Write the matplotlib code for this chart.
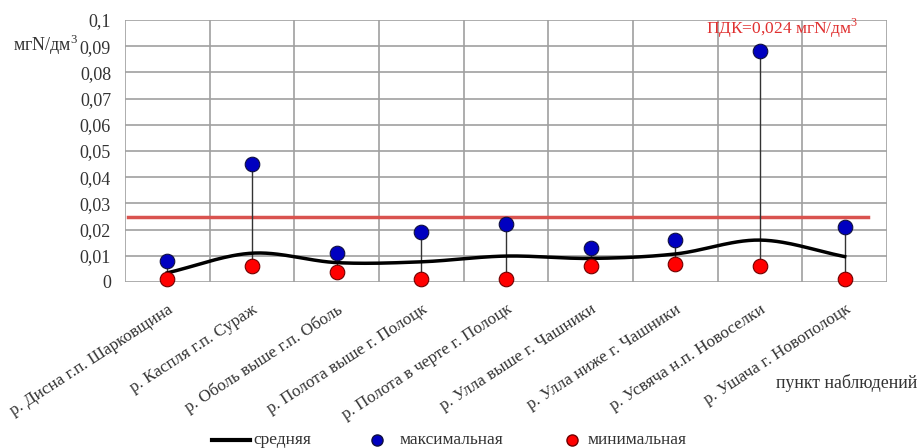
import numpy as np
import matplotlib
matplotlib.use("Agg")
import matplotlib.pyplot as plt
from matplotlib.lines import Line2D

categories = ["р. Дисна г.п. Шарковщина", "р. Каспля г.п. Сураж", "р. Оболь выше г.п. Оболь",
              "р. Полота выше г. Полоцк", "р. Полота в черте г. Полоцк", "р. Улла выше г. Чашники",
              "р. Улла ниже г. Чашники", "р. Усвяча н.п. Новоселки", "р. Ушача г. Новополоцк"]
max_vals = [0.008, 0.045, 0.011, 0.019, 0.022, 0.013, 0.016, 0.088, 0.021]
min_vals = [0.001, 0.006, 0.004, 0.001, 0.001, 0.006, 0.007, 0.006, 0.001]
mean_vals = [0.0035, 0.011, 0.0074, 0.0077, 0.0099, 0.009, 0.0107, 0.016, 0.0097]
pdk_line = 0.025
pdk_label = "ПДК=0,024 мгN/дм$^3$"
yticks = [0, 0.01, 0.02, 0.03, 0.04, 0.05, 0.06, 0.07, 0.08, 0.09, 0.1]
ytick_labels = ["0", "0,01", "0,02", "0,03", "0,04", "0,05", "0,06", "0,07", "0,08", "0,09", "0,1"]
legend_labels = ["средняя", "максимальная", "минимальная"]

plt.rcParams['font.family'] = ['Liberation Serif', 'DejaVu Serif']
plt.rcParams['mathtext.fontset'] = 'custom'
plt.rcParams['mathtext.rm'] = 'Liberation Serif'

def catmull_rom(x, y, n=30):
    x = np.asarray(x, float); y = np.asarray(y, float)
    px = np.concatenate([[2*x[0]-x[1]], x, [2*x[-1]-x[-2]]])
    py = np.concatenate([[2*y[0]-y[1]], y, [2*y[-1]-y[-2]]])
    xs, ys = [], []
    for i in range(1, len(px)-2):
        t = np.linspace(0, 1, n, endpoint=False)
        for arr, out in ((px, xs), (py, ys)):
            p0, p1, p2, p3 = arr[i-1], arr[i], arr[i+1], arr[i+2]
            out.append(0.5*((2*p1) + (-p0+p2)*t + (2*p0-5*p1+4*p2-p3)*t**2 + (-p0+3*p1-3*p2+p3)*t**3))
    xs.append([x[-1]]); ys.append([y[-1]])
    return np.concatenate(xs), np.concatenate(ys)

W, H = 922, 448
fig = plt.figure(figsize=(W/100, H/100), dpi=100)
ax = fig.add_axes([125/W, 1-282/H, (887-125)/W, (282-20)/H])
x = np.arange(len(categories))
ax.set_xlim(-0.5, len(categories)-0.5)
ax.set_ylim(0, 0.1)

gc = '#a0a0a0'
for yv in yticks:
    ax.axhline(yv, color=gc, lw=1.2, zorder=0)
for xv in np.arange(-0.5, len(categories), 1.0):
    ax.axvline(xv, color=gc, lw=1.2, zorder=0)
for s in ax.spines.values():
    s.set_visible(False)

ax.plot([-0.46, 8.28], [pdk_line, pdk_line], color='#d9534f', lw=2.5, zorder=1)
ax.vlines(x, min_vals, max_vals, color='#333333', lw=1.0, zorder=2)
sx, sy = catmull_rom(x, mean_vals)
ax.plot(sx, sy, color='black', lw=2.5, zorder=3)
ax.scatter(x, max_vals, s=110, color='#0000c0', edgecolor='#101040', lw=0.8, zorder=4)
ax.scatter(x, min_vals, s=110, color='#ff0000', edgecolor='#700000', lw=0.8, zorder=4, clip_on=False)

tc = '#333333'
ax.set_yticks(yticks)
ax.set_yticklabels(ytick_labels, fontsize=13, color=tc)
ax.set_xticks(x)
ax.set_xticklabels(categories, rotation=33, ha='right', rotation_mode='anchor', fontsize=12.3, color=tc)
ax.tick_params(axis='y', length=0, pad=10)
ax.tick_params(axis='x', length=0, pad=14)

fig.text(13/W, 1-45/H, "мгN/дм$^3$", fontsize=13, color=tc, va='center', ha='left')
fig.text(858/W, 1-28/H, pdk_label, fontsize=12.5, color='#e03030', va='center', ha='right')
fig.text(917/W, 1-383/H, "пункт наблюдений", fontsize=12.8, color=tc, va='center', ha='right')

# legend placed manually
ly = 1-440/H
fig.add_artist(Line2D([212/W, 250/W], [ly, ly], color='black', lw=3, transform=fig.transFigure))
fig.text(253/W, ly, legend_labels[0], fontsize=12.5, color=tc, va='center', ha='left')
fig.add_artist(Line2D([377/W], [ly], marker='o', ls='none', color='#0000c0', markeredgecolor='#101040',
                      markersize=8, transform=fig.transFigure))
fig.text(400/W, ly, legend_labels[1], fontsize=12.5, color=tc, va='center', ha='left')
fig.add_artist(Line2D([572/W], [ly], marker='o', ls='none', color='#ff0000', markeredgecolor='#700000',
                      markersize=8, transform=fig.transFigure))
fig.text(588/W, ly, legend_labels[2], fontsize=12.5, color=tc, va='center', ha='left')

fig.savefig("out.png", dpi=100)
